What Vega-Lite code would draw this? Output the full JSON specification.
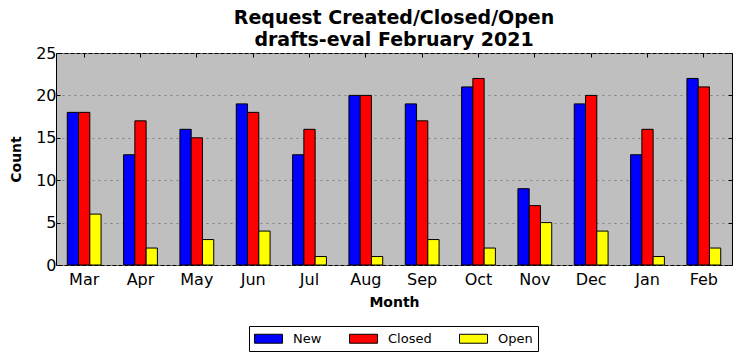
{
  "$schema": "https://vega.github.io/schema/vega-lite/v6.json",
  "autosize": "none",
  "width": 676,
  "height": 212,
  "padding": {"left": 56, "top": 53, "right": 10, "bottom": 96},
  "background": "white",
  "title": {
    "text": ["Request Created/Closed/Open", "drafts-eval February 2021"],
    "font": "DejaVu Sans",
    "fontSize": 19,
    "fontWeight": "bold",
    "color": "black",
    "lineHeight": 22,
    "offset": -5
  },
  "config": {
    "view": {"fill": "#bfbfbf", "stroke": "black", "strokeWidth": 1},
    "font": "DejaVu Sans"
  },
  "data": {
    "values": [
      {"month": "Mar", "type": "New", "count": 18}, {"month": "Mar", "type": "Closed", "count": 18}, {"month": "Mar", "type": "Open", "count": 6},
      {"month": "Apr", "type": "New", "count": 13}, {"month": "Apr", "type": "Closed", "count": 17}, {"month": "Apr", "type": "Open", "count": 2},
      {"month": "May", "type": "New", "count": 16}, {"month": "May", "type": "Closed", "count": 15}, {"month": "May", "type": "Open", "count": 3},
      {"month": "Jun", "type": "New", "count": 19}, {"month": "Jun", "type": "Closed", "count": 18}, {"month": "Jun", "type": "Open", "count": 4},
      {"month": "Jul", "type": "New", "count": 13}, {"month": "Jul", "type": "Closed", "count": 16}, {"month": "Jul", "type": "Open", "count": 1},
      {"month": "Aug", "type": "New", "count": 20}, {"month": "Aug", "type": "Closed", "count": 20}, {"month": "Aug", "type": "Open", "count": 1},
      {"month": "Sep", "type": "New", "count": 19}, {"month": "Sep", "type": "Closed", "count": 17}, {"month": "Sep", "type": "Open", "count": 3},
      {"month": "Oct", "type": "New", "count": 21}, {"month": "Oct", "type": "Closed", "count": 22}, {"month": "Oct", "type": "Open", "count": 2},
      {"month": "Nov", "type": "New", "count": 9}, {"month": "Nov", "type": "Closed", "count": 7}, {"month": "Nov", "type": "Open", "count": 5},
      {"month": "Dec", "type": "New", "count": 19}, {"month": "Dec", "type": "Closed", "count": 20}, {"month": "Dec", "type": "Open", "count": 4},
      {"month": "Jan", "type": "New", "count": 13}, {"month": "Jan", "type": "Closed", "count": 16}, {"month": "Jan", "type": "Open", "count": 1},
      {"month": "Feb", "type": "New", "count": 22}, {"month": "Feb", "type": "Closed", "count": 21}, {"month": "Feb", "type": "Open", "count": 2}
    ]
  },
  "layer": [
    {
      "mark": {"type": "bar", "stroke": "black", "strokeWidth": 1},
      "encoding": {
        "x": {
          "field": "month", "type": "nominal",
          "sort": ["Mar","Apr","May","Jun","Jul","Aug","Sep","Oct","Nov","Dec","Jan","Feb"],
          "scale": {"paddingInner": 0.4, "paddingOuter": 0.2},
          "axis": {
            "title": "Month", "titleFontSize": 14, "titleFontWeight": "bold", "titleColor": "black", "titlePadding": 8,
            "labelAngle": 0, "labelFontSize": 16, "labelColor": "black", "labelPadding": 10,
            "domain": false, "tickSize": -4, "tickColor": "black", "grid": false
          }
        },
        "xOffset": {"field": "type", "type": "nominal", "sort": ["New", "Closed", "Open"], "scale": {"paddingInner": 0, "paddingOuter": 0}},
        "y": {
          "field": "count", "type": "quantitative",
          "scale": {"domain": [0, 25], "nice": false},
          "axis": {
            "title": "Count", "titleFontSize": 14, "titleFontWeight": "bold", "titleColor": "black", "titlePadding": 12,
            "values": [0, 5, 10, 15, 20, 25], "labelFontSize": 16, "labelColor": "black", "labelPadding": 4,
            "domain": false, "tickSize": -4, "tickColor": "black",
            "grid": true, "gridColor": "#808080", "gridDash": [2, 4], "gridWidth": 1
          }
        },
        "color": {
          "field": "type", "type": "nominal", "sort": ["New", "Closed", "Open"],
          "scale": {"domain": ["New", "Closed", "Open"], "range": ["#0000ff", "#ff0000", "#ffff00"]},
          "legend": {
            "orient": "none", "legendX": 193, "legendY": 273, "direction": "horizontal",
            "title": null, "strokeColor": "black", "fillColor": "white", "padding": 5,
            "symbolType": "M-2,-0.64H2V0.64H-2Z", "symbolSize": 196, "symbolStrokeColor": "black", "symbolStrokeWidth": 1,
            "symbolOffset": 7,
            "labelFontSize": 13, "labelColor": "black", "columnPadding": 25, "labelOffset": 17
          }
        }
      }
    },
    {
      "mark": {"type": "rule", "opacity": 0},
      "encoding": {
        "x": {"field": "month", "type": "nominal", "sort": ["Mar","Apr","May","Jun","Jul","Aug","Sep","Oct","Nov","Dec","Jan","Feb"],
          "axis": {"orient": "top", "title": null, "labels": false, "domain": false, "tickSize": -4, "tickColor": "black", "grid": false}},
        "y": {"field": "count", "type": "quantitative",
          "axis": {"orient": "right", "title": null, "labels": false, "domain": false, "values": [0, 5, 10, 15, 20, 25], "tickSize": -4, "tickColor": "black", "grid": false}}
      }
    }
  ],
  "resolve": {"axis": {"x": "independent", "y": "independent"}}
}
